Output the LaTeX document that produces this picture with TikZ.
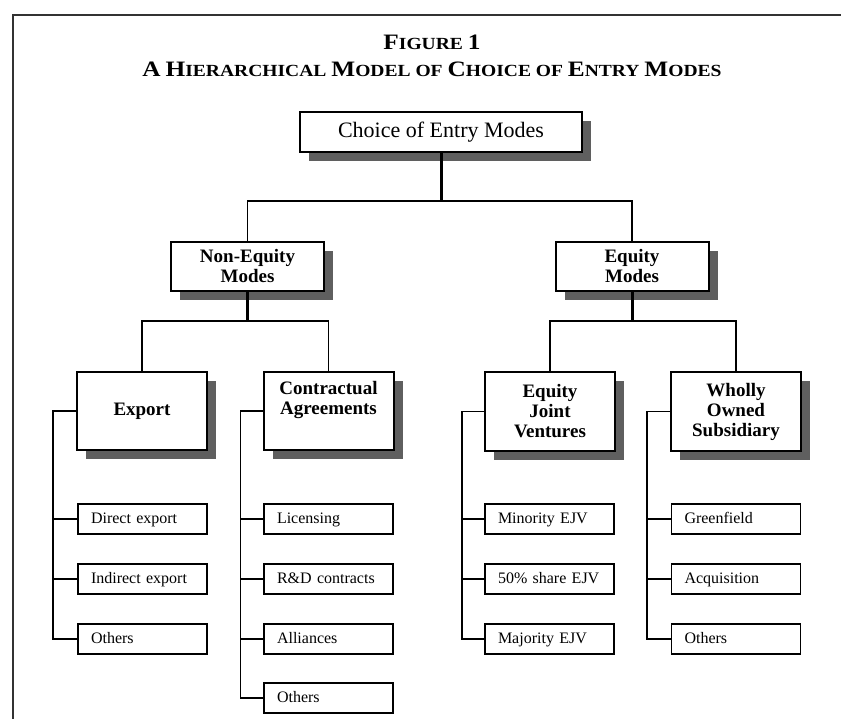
\documentclass[tikz,border=0pt]{standalone}
\usepackage{fontspec}
\setmainfont{Liberation Serif}
\definecolor{ShadowGray}{RGB}{95,95,95}
\definecolor{FrameGray}{RGB}{50,50,50}
\usepackage{tikz}
\usetikzlibrary{positioning, shadows, calc}
\newcommand\capword[2]{{\fontsize{22}{24}\selectfont #1}#2}

\begin{document}
\begin{tikzpicture}[x=1pt, y=-1pt,
    shadowed/.style={drop shadow={shadow xshift=9pt, shadow yshift=-9pt, fill=ShadowGray, opacity=1}},
    titletext/.style={font=\bfseries\fontsize{17}{19}\selectfont},
    rootbox/.style={draw, line width=2pt, fill=white, shadowed, minimum width=282pt, minimum height=40pt, inner sep=0pt, font=\fontsize{22}{24}\selectfont},
    modebox/.style={draw, line width=2pt, fill=white, shadowed, minimum width=153pt, minimum height=49pt, inner sep=0pt, align=center, font=\bfseries\fontsize{19}{20}\selectfont},
    typebox/.style={modebox, minimum width=130pt, minimum height=78pt},
    leafbox/.style={draw, line width=1.4pt, fill=white, minimum width=129pt, minimum height=30pt, inner xsep=13pt, inner ysep=0pt, text width=103pt, text height=11pt, text depth=3pt, align=left, font=\fontsize{16}{18}\selectfont},
    link/.style={line width=1.3pt},
    trunk/.style={line width=3pt}]
      \useasboundingbox (0,0) rectangle (841,719);
      \draw[FrameGray, line width=2pt] (13,719) -- (13,15) -- (841,15);
      % Title
      \node[titletext] (figno) at (432,42) {\scalebox{1.15}[1]{\capword{F}{IGURE} \capword{1}{}}};
      \node[titletext] (caption) at (432,69)
            {\scalebox{1.15}[1]{\capword{A}{} \capword{H}{IERARCHICAL} \capword{M}{ODEL} OF \capword{C}{HOICE} OF \capword{E}{NTRY} \capword{M}{ODES}}};
      % Top levels
      \node[rootbox] (root) at (441,132) {Choice of Entry Modes};
      \node[modebox] (nonequity) at (247.5,266.5) {Non-Equity\\Modes};
      \node[modebox] (equity) at (632,266.5) {Equity\\Modes};
      \node[typebox] (export) at (142,411) {Export};
      \node[typebox] (contract) at (328.5,411) {Contractual\\Agreements\\[6pt]};
      \node[typebox] (ejv) at (550,411.5) {Equity\\Joint\\Ventures};
      \node[typebox] (wos) at (736,411.5) {Wholly\\Owned\\Subsidiary};
      % Leaves
      \node[leafbox] (ex1) at (142.5,519) {Direct export};
      \node[leafbox] (ex2) at (142.5,579) {Indirect export};
      \node[leafbox] (ex3) at (142.5,639) {Others};
      \node[leafbox] (ca1) at (328.5,519) {Licensing};
      \node[leafbox] (ca2) at (328.5,579) {R\&D contracts};
      \node[leafbox] (ca3) at (328.5,639) {Alliances};
      \node[leafbox] (ca4) at (328.5,698) {Others};
      \node[leafbox] (ej1) at (549.5,519) {Minority EJV};
      \node[leafbox] (ej2) at (549.5,579) {50\% share EJV};
      \node[leafbox] (ej3) at (549.5,639) {Majority EJV};
      \node[leafbox] (wo1) at (736,519) {Greenfield};
      \node[leafbox] (wo2) at (736,579) {Acquisition};
      \node[leafbox] (wo3) at (736,639) {Others};
      % Tree
      \coordinate (tophub) at (441,201);
      \coordinate (lefthub) at (nonequity.south |- 0,321);
      \coordinate (righthub) at (equity.south |- 0,321);
      \draw[trunk] (root.south) -- (tophub);
      \draw[link] (nonequity.north) |- (tophub) -| (equity.north);
      \draw[trunk] (nonequity.south) -- (lefthub);
      \draw[link] (export.north) |- (lefthub) -| (contract.north);
      \draw[trunk] (equity.south) -- (righthub);
      \draw[link] (ejv.north) |- (righthub) -| (wos.north);
      % Side rails
      \coordinate (exrail) at ([xshift=-23pt]export.west);
      \coordinate (carail) at ([xshift=-22pt]contract.west);
      \coordinate (ejrail) at ([xshift=-22pt]ejv.west);
      \coordinate (worail) at ([xshift=-23pt]wos.west);
      \draw[link] (export.west) -- (exrail) |- (ex3.west);
      \draw[link] (ex1.west) -- (ex1.west -| exrail);
      \draw[link] (ex2.west) -- (ex2.west -| exrail);
      \draw[link] (contract.west) -- (carail) |- (ca4.west);
      \draw[link] (ca1.west) -- (ca1.west -| carail);
      \draw[link] (ca2.west) -- (ca2.west -| carail);
      \draw[link] (ca3.west) -- (ca3.west -| carail);
      \draw[link] (ejv.west) -- (ejrail) |- (ej3.west);
      \draw[link] (ej1.west) -- (ej1.west -| ejrail);
      \draw[link] (ej2.west) -- (ej2.west -| ejrail);
      \draw[link] (wos.west) -- (worail) |- (wo3.west);
      \draw[link] (wo1.west) -- (wo1.west -| worail);
      \draw[link] (wo2.west) -- (wo2.west -| worail);
    \end{tikzpicture}
\end{document}
